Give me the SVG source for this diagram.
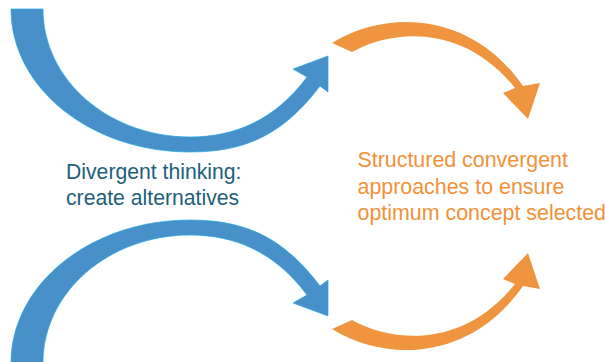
<svg xmlns="http://www.w3.org/2000/svg" width="605" height="362" viewBox="0 0 605 362">
<style>
.blue{fill:#4890C9;stroke:#22A8E0;stroke-width:0.7;stroke-linejoin:miter}
.orange{fill:#F0953F}
.t{font-family:"Liberation Sans",Arial,sans-serif}
.teal{fill:#1E5F7B;font-size:21.2px}
.or{fill:#F0923A;font-size:21.4px}
</style>
<defs>
<path id="blueArrow" d="M11,9 L43,9 C43,80 109,137 190,137 C235,137 275,120 307,77 L293,69 L328,56 L328,92 L320,86 C283,135 245,152 190,152 C91,152 11,88 11,9 Z"/>
<path id="orangeArrow" d="M332,43 C385,10 470,10 523,86 L540,83 L528,119 L503,93 L515,88 C465,25 395,28 352,52 Z"/>
</defs>
<rect width="605" height="362" fill="#FFFFFF"/>
<g id="connectors">
<use href="#blueArrow" class="blue"/>
<use href="#blueArrow" class="blue" transform="matrix(1,0,0,-1,0,372)"/>
<use href="#orangeArrow" class="orange"/>
<use href="#orangeArrow" class="orange" transform="matrix(1,0,0,-1,0,372)"/>
</g>
<g id="divergent">
<text class="t teal" x="66" y="179">Divergent thinking:</text>
<text class="t teal" x="66" y="204.5">create alternatives</text>
</g>
<g id="convergent">
<text class="t or" x="357.5" y="167">Structured convergent</text>
<text class="t or" x="357.5" y="193.5">approaches to ensure</text>
<text class="t or" x="357.5" y="220">optimum concept selected</text>
</g>
</svg>
